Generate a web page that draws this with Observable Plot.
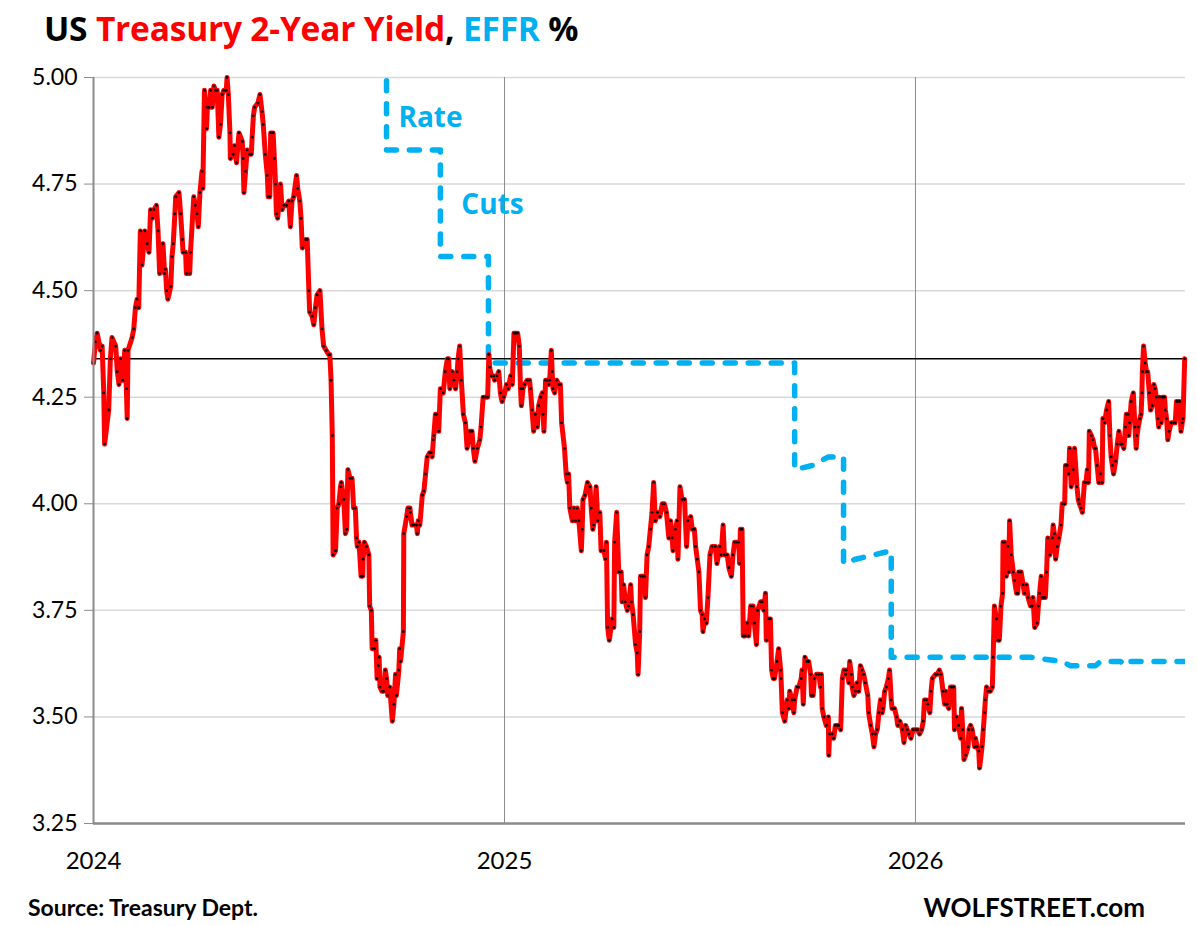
<!DOCTYPE html>
<html>
<head>
<meta charset="utf-8">
<script src="https://cdn.jsdelivr.net/npm/d3@7"></script>
<script src="https://cdn.jsdelivr.net/npm/@observablehq/plot@0.6"></script>
<style>
  html, body { margin: 0; padding: 0; background: #fff; }
  #wrap { position: relative; width: 1197px; height: 926px; overflow: hidden; font-family: Lato, "Open Sans", sans-serif; }
  #title { position: absolute; left: 44px; top: 12px; font-family: "Open Sans", Lato, sans-serif; font-weight: bold; font-size: 33.5px; line-height: 1; color: #000; white-space: nowrap; letter-spacing: -0.2px; }
  .red { color: #FF0000; }
  .blue { color: #00B0F0; }
  #source { position: absolute; left: 28px; top: 896px; font-weight: bold; font-size: 23px; line-height: 1; }
  #brand { position: absolute; right: 52px; top: 894px; font-weight: bold; font-size: 26px; line-height: 1; }
  #chart { position: absolute; left: 0; top: 0; }
</style>
</head>
<body>
<div id="wrap">
  <div id="chart"></div>
  <div id="title">US <span class="red">Treasury 2-Year Yield</span>, <span class="blue">EFFR</span> %</div>
  <div id="source">Source: Treasury Dept.</div>
  <div id="brand">WOLFSTREET.com</div>
</div>
<script>
// Treasury 2-year yield, time in fractional years
const yieldYears = [
2024.000,2024.005,2024.009,2024.017,2024.021,2024.025,2024.027,2024.037,2024.041,2024.045,2024.054,2024.058,2024.062,2024.066,2024.071,2024.076,2024.080,2024.082,2024.084,2024.094,
2024.098,2024.102,2024.106,2024.110,2024.114,2024.118,2024.125,2024.131,2024.135,2024.139,2024.143,2024.147,2024.153,2024.157,2024.161,2024.169,2024.173,2024.175,2024.178,2024.181,
2024.188,2024.191,2024.194,2024.198,2024.200,2024.208,2024.212,2024.216,2024.218,2024.224,2024.226,2024.234,2024.236,2024.244,2024.248,2024.252,2024.255,2024.259,2024.264,2024.266,
2024.270,2024.275,2024.277,2024.281,2024.285,2024.289,2024.293,2024.297,2024.301,2024.305,2024.309,2024.313,2024.317,2024.323,2024.325,2024.328,2024.332,2024.333,2024.340,2024.343,
2024.348,2024.354,2024.362,2024.364,2024.366,2024.370,2024.374,2024.380,2024.384,2024.386,2024.389,2024.392,2024.400,2024.405,2024.410,2024.413,2024.418,2024.423,2024.425,2024.429,
2024.431,2024.437,2024.440,2024.443,2024.445,2024.448,2024.455,2024.459,2024.463,2024.470,2024.475,2024.479,2024.483,2024.487,2024.494,2024.497,2024.502,2024.505,2024.508,2024.516,
2024.520,2024.524,2024.526,2024.532,2024.536,2024.540,2024.544,2024.551,2024.556,2024.560,2024.566,2024.572,2024.575,2024.578,2024.581,2024.583,2024.589,2024.593,2024.597,2024.601,
2024.603,2024.609,2024.613,2024.616,2024.619,2024.624,2024.629,2024.633,2024.637,2024.640,2024.642,2024.646,2024.651,2024.655,2024.656,2024.659,2024.664,2024.670,2024.672,2024.676,
2024.678,2024.684,2024.687,2024.690,2024.693,2024.695,2024.697,2024.702,2024.706,2024.710,2024.713,2024.716,2024.721,2024.727,2024.731,2024.735,2024.737,2024.743,2024.745,2024.747,
2024.754,2024.755,2024.762,2024.765,2024.770,2024.771,2024.775,2024.779,2024.786,2024.788,2024.790,2024.794,2024.800,2024.804,2024.808,2024.812,2024.818,2024.822,2024.824,2024.827,
2024.828,2024.832,2024.835,2024.840,2024.844,2024.851,2024.856,2024.861,2024.864,2024.867,2024.873,2024.877,2024.881,2024.885,2024.887,2024.891,2024.895,2024.900,2024.905,2024.909,
2024.916,2024.921,2024.924,2024.928,2024.934,2024.940,2024.943,2024.948,2024.954,2024.959,2024.962,2024.964,2024.968,2024.974,2024.976,2024.982,2024.986,2024.990,2024.994,2024.998,
2025.005,2025.009,2025.015,2025.019,2025.023,2025.027,2025.032,2025.036,2025.039,2025.041,2025.045,2025.049,2025.055,2025.061,2025.063,2025.067,2025.071,2025.075,2025.080,2025.083,
2025.088,2025.092,2025.094,2025.096,2025.100,2025.104,2025.108,2025.110,2025.114,2025.116,2025.118,2025.122,2025.127,2025.132,2025.136,2025.139,2025.146,2025.150,2025.153,2025.156,
2025.159,2025.165,2025.169,2025.173,2025.177,2025.181,2025.187,2025.189,2025.191,2025.196,2025.202,2025.208,2025.211,2025.215,2025.217,2025.223,2025.227,2025.232,2025.235,2025.242,
2025.246,2025.248,2025.251,2025.255,2025.262,2025.266,2025.268,2025.273,2025.278,2025.284,2025.286,2025.290,2025.294,2025.299,2025.302,2025.307,2025.309,2025.313,2025.319,2025.323,
2025.325,2025.329,2025.331,2025.337,2025.341,2025.343,2025.347,2025.351,2025.355,2025.359,2025.363,2025.367,2025.372,2025.378,2025.384,2025.389,2025.394,2025.400,2025.404,2025.408,
2025.410,2025.416,2025.420,2025.422,2025.427,2025.432,2025.438,2025.443,2025.446,2025.453,2025.457,2025.462,2025.465,2025.469,2025.473,2025.477,2025.481,2025.483,2025.487,2025.491,
2025.495,2025.500,2025.505,2025.513,2025.517,2025.524,2025.527,2025.532,2025.535,2025.542,2025.546,2025.552,2025.556,2025.560,2025.566,2025.570,2025.572,2025.574,2025.578,2025.581,
2025.586,2025.591,2025.594,2025.599,2025.605,2025.608,2025.613,2025.616,2025.623,2025.627,2025.631,2025.635,2025.637,2025.643,2025.647,2025.650,2025.654,2025.657,2025.663,2025.667,
2025.672,2025.673,2025.676,2025.682,2025.688,2025.692,2025.694,2025.700,2025.704,2025.706,2025.712,2025.716,2025.722,2025.724,2025.727,2025.731,2025.735,2025.740,2025.745,2025.747,
2025.751,2025.754,2025.759,2025.765,2025.769,2025.771,2025.773,2025.777,2025.783,2025.788,2025.789,2025.791,2025.797,2025.801,2025.805,2025.810,2025.813,2025.818,2025.822,2025.826,
2025.830,2025.832,2025.838,2025.840,2025.844,2025.846,2025.850,2025.854,2025.858,2025.862,2025.866,2025.870,2025.874,2025.878,2025.884,2025.886,2025.891,2025.895,2025.899,2025.903,
2025.907,2025.911,2025.915,2025.919,2025.921,2025.925,2025.929,2025.934,2025.937,2025.941,2025.943,2025.949,2025.954,2025.957,2025.962,2025.968,2025.972,2025.976,2025.980,2025.984,
2025.989,2025.994,2026.000,2026.005,2026.010,2026.015,2026.019,2026.022,2026.027,2026.030,2026.035,2026.038,2026.041,2026.049,2026.053,2026.058,2026.062,2026.067,2026.071,2026.073,
2026.077,2026.081,2026.085,2026.089,2026.093,2026.095,2026.100,2026.105,2026.110,2026.112,2026.115,2026.118,2026.122,2026.128,2026.130,2026.134,2026.138,2026.144,2026.146,2026.150,
2026.154,2026.156,2026.162,2026.165,2026.168,2026.170,2026.173,2026.176,2026.182,2026.187,2026.189,2026.192,2026.197,2026.201,2026.204,2026.208,2026.212,2026.213,2026.217,2026.221,
2026.225,2026.227,2026.229,2026.233,2026.238,2026.241,2026.246,2026.249,2026.251,2026.257,2026.262,2026.265,2026.270,2026.274,2026.280,2026.284,2026.286,2026.290,2026.296,2026.299,
2026.302,2026.306,2026.308,2026.312,2026.316,2026.319,2026.322,2026.327,2026.333,2026.335,2026.338,2026.341,2026.345,2026.349,2026.354,2026.357,2026.363,2026.365,2026.369,2026.373,
2026.375,2026.379,2026.384,2026.387,2026.393,2026.396,2026.399,2026.403,2026.406,2026.411,2026.415,2026.418,2026.421,2026.423,2026.428,2026.432,2026.436,2026.438,2026.442,2026.446,
2026.450,2026.454,2026.456,2026.460,2026.465,2026.470,2026.473,2026.476,2026.479,2026.482,2026.487,2026.491,2026.495,2026.499,2026.503,2026.507,2026.511,2026.513,2026.518,2026.519,
2026.521,2026.525,2026.530,2026.534,2026.537,2026.539,2026.542,2026.546,2026.549,2026.551,2026.552,2026.555,2026.559,2026.562,2026.565,2026.569,2026.572,2026.576,2026.580,2026.583,
2026.586,2026.590,2026.592,2026.594,2026.598,2026.601,2026.606,2026.608,2026.611,2026.614,2026.617,2026.622,2026.628,2026.632,2026.635,2026.638,2026.643,2026.646,2026.649,2026.651,
2026.655
];
const yieldValues = [
4.33,4.38,4.40,4.36,4.37,4.26,4.14,4.22,4.34,4.39,4.37,4.31,4.28,4.34,4.29,4.36,4.27,4.20,4.36,4.39,
4.41,4.46,4.48,4.46,4.64,4.56,4.64,4.61,4.59,4.69,4.67,4.69,4.70,4.64,4.54,4.61,4.54,4.55,4.50,4.48,
4.51,4.58,4.61,4.68,4.72,4.73,4.68,4.62,4.59,4.59,4.54,4.54,4.59,4.72,4.70,4.68,4.65,4.73,4.78,4.74,
4.97,4.88,4.93,4.93,4.97,4.93,4.98,4.97,4.97,4.86,4.89,4.96,4.97,4.97,5.00,4.96,4.87,4.81,4.82,4.84,
4.80,4.87,4.85,4.81,4.73,4.78,4.83,4.82,4.82,4.86,4.91,4.93,4.94,4.96,4.92,4.89,4.82,4.77,4.72,4.72,
4.87,4.87,4.81,4.75,4.68,4.67,4.75,4.69,4.70,4.70,4.71,4.65,4.71,4.72,4.77,4.74,4.71,4.67,4.60,4.62,
4.62,4.50,4.45,4.44,4.42,4.46,4.49,4.50,4.41,4.37,4.36,4.35,4.35,4.29,4.16,3.88,3.89,3.99,4.00,4.04,
4.05,4.01,3.93,3.94,4.08,4.06,4.06,3.99,3.99,3.92,3.90,3.91,3.83,3.83,3.87,3.91,3.90,3.88,3.76,3.75,
3.66,3.66,3.68,3.59,3.62,3.64,3.57,3.56,3.56,3.61,3.59,3.55,3.57,3.49,3.53,3.60,3.55,3.61,3.66,3.63,
3.70,3.93,3.97,3.99,3.99,3.98,3.95,3.95,3.95,3.93,3.96,3.95,4.02,4.03,4.07,4.11,4.12,4.12,4.11,4.15,
4.16,4.21,4.21,4.17,4.27,4.26,4.31,4.34,4.34,4.27,4.31,4.29,4.27,4.31,4.34,4.37,4.29,4.21,4.19,4.13,
4.17,4.17,4.13,4.10,4.13,4.15,4.18,4.25,4.25,4.25,4.35,4.32,4.30,4.30,4.29,4.30,4.31,4.26,4.24,4.25,
4.28,4.27,4.30,4.28,4.40,4.40,4.40,4.37,4.27,4.23,4.27,4.28,4.29,4.29,4.27,4.22,4.17,4.21,4.18,4.23,
4.25,4.26,4.21,4.17,4.29,4.29,4.28,4.29,4.36,4.31,4.27,4.26,4.29,4.28,4.28,4.19,4.13,4.07,4.05,4.07,
3.99,3.96,3.99,3.96,3.99,3.96,3.89,3.94,4.01,4.02,4.05,4.04,3.99,3.94,3.95,4.04,3.96,3.98,3.89,3.89,
3.87,3.91,3.71,3.68,3.73,3.71,3.91,3.98,3.84,3.84,3.77,3.81,3.77,3.75,3.76,3.81,3.77,3.74,3.67,3.65,
3.60,3.70,3.83,3.83,3.83,3.78,3.88,3.90,3.94,3.98,4.05,3.96,3.98,3.97,4.00,4.00,3.98,3.92,3.96,3.92,
3.89,3.94,3.96,3.87,4.04,4.01,4.01,3.90,3.96,3.97,3.94,3.94,3.90,3.87,3.84,3.75,3.74,3.70,3.73,3.72,
3.78,3.88,3.90,3.90,3.86,3.90,3.88,3.95,3.88,3.88,3.85,3.83,3.88,3.91,3.91,3.91,3.86,3.94,3.94,3.69,
3.69,3.72,3.69,3.76,3.76,3.72,3.67,3.75,3.77,3.77,3.75,3.79,3.68,3.73,3.73,3.61,3.59,3.59,3.63,3.66,
3.61,3.59,3.51,3.49,3.54,3.52,3.56,3.54,3.51,3.54,3.57,3.57,3.59,3.61,3.53,3.64,3.63,3.63,3.60,3.55,
3.55,3.59,3.60,3.60,3.57,3.60,3.52,3.50,3.48,3.50,3.41,3.46,3.46,3.45,3.48,3.48,3.48,3.47,3.59,3.61,
3.60,3.61,3.58,3.63,3.60,3.57,3.55,3.56,3.58,3.56,3.62,3.61,3.60,3.58,3.55,3.51,3.48,3.46,3.43,3.46,
3.47,3.51,3.54,3.51,3.52,3.56,3.57,3.59,3.61,3.54,3.52,3.52,3.50,3.48,3.49,3.47,3.44,3.48,3.47,3.46,
3.45,3.47,3.47,3.47,3.46,3.47,3.49,3.54,3.54,3.53,3.51,3.56,3.59,3.60,3.60,3.61,3.60,3.56,3.53,3.56,
3.53,3.52,3.57,3.57,3.57,3.47,3.50,3.48,3.45,3.52,3.47,3.40,3.41,3.43,3.47,3.48,3.47,3.43,3.45,3.43,
3.42,3.38,3.43,3.47,3.51,3.54,3.57,3.56,3.56,3.57,3.64,3.76,3.73,3.68,3.68,3.76,3.79,3.91,3.91,3.83,
3.90,3.84,3.96,3.88,3.84,3.82,3.79,3.79,3.84,3.84,3.81,3.79,3.81,3.78,3.76,3.76,3.78,3.71,3.72,3.76,
3.79,3.83,3.78,3.78,3.78,3.84,3.92,3.88,3.92,3.95,3.93,3.87,3.90,3.92,3.95,4.00,4.00,4.09,4.09,4.07,
4.13,4.04,4.08,4.13,4.04,4.01,4.00,3.99,3.98,4.05,4.05,4.08,4.05,4.17,4.16,4.15,4.13,4.13,4.09,4.05,
4.07,4.05,4.20,4.19,4.22,4.24,4.16,4.11,4.09,4.07,4.10,4.14,4.17,4.14,4.14,4.13,4.18,4.21,4.21,4.16,
4.19,4.24,4.26,4.18,4.13,4.16,4.18,4.20,4.21,4.26,4.31,4.37,4.33,4.31,4.31,4.26,4.22,4.23,4.28,4.27,
4.25,4.20,4.18,4.25,4.19,4.25,4.25,4.22,4.20,4.15,4.17,4.19,4.19,4.19,4.24,4.24,4.24,4.17,4.19,4.20,
4.34
];

// Effective federal funds rate (step series), time in fractional years
const effrYears = [2024.000,2024.713,2024.713,2024.844,2024.844,2024.961,2024.961,2025.706,2025.706,2025.749,2025.769,2025.788,2025.825,2025.825,2025.854,2025.898,2025.941,2025.941,2026.280,2026.357,2026.377,2026.438,2026.450,2026.499,2026.511,2026.523,2026.657];
const effrValues = [5.33,5.33,4.83,4.83,4.58,4.58,4.33,4.33,4.08,4.09,4.10,4.11,4.11,3.86,3.87,3.88,3.89,3.64,3.64,3.63,3.62,3.62,3.63,3.63,3.62,3.63,3.63];

const yTicks = [3.25, 3.50, 3.75, 4.00, 4.25, 4.50, 4.75, 5.00];
const xTicks = [2024, 2025, 2026];
const yearRules = [2025, 2026];
const refLevel = 4.34;
const notes = [
  {label: "Rate", x: 2024.742, y: 4.904},
  {label: "Cuts", x: 2024.895, y: 4.702}
];

const yieldData = yieldYears.map((t, i) => ({t, v: yieldValues[i]}));
const effrData = effrYears.map((t, i) => ({t, v: effrValues[i]}));

const chart = Plot.plot({
  width: 1197,
  height: 926,
  marginTop: 77,
  marginLeft: 93,
  marginRight: 12,
  marginBottom: 103,
  style: {fontFamily: "Lato, 'Open Sans', sans-serif", fontSize: "22px", color: "#000", background: "white"},
  x: {type: "linear", domain: [2024, 2026.657]},
  y: {domain: [3.25, 5.0]},
  marks: [
    Plot.gridY(yTicks, {stroke: "#d9d9d9", strokeOpacity: 1, strokeWidth: 1.5}),
    Plot.ruleX(yearRules, {stroke: "#8c8c8c", strokeWidth: 1}),
    Plot.line(effrData, {x: "t", y: "v", stroke: "#00B0F0", strokeWidth: 5.5, strokeDasharray: "10,13", strokeLinecap: "round", clip: true}),
    Plot.ruleY([refLevel], {stroke: "#000", strokeWidth: 1.5}),
    Plot.line(yieldData, {x: "t", y: "v", stroke: "#FF0000", strokeWidth: 5, strokeLinejoin: "round"}),
    Plot.dot(yieldData, {x: "t", y: "v", r: 1.4, fill: "#000", stroke: "none"}),
    Plot.ruleX([2024], {stroke: "#8c8c8c", strokeWidth: 2}),
    Plot.ruleY([3.25], {stroke: "#8c8c8c", strokeWidth: 2.5}),
    Plot.axisY(yTicks, {tickFormat: d => d.toFixed(2), tickSize: 9, tickPadding: 7, stroke: "#8c8c8c", fontSize: 23}),
    Plot.axisX(xTicks, {tickFormat: d => String(d), tickSize: 0, tickPadding: 28, fontSize: 24}),
    Plot.text(notes, {x: "x", y: "y", text: "label", textAnchor: "start", fill: "#00B0F0", fontSize: 28, fontWeight: "bold", fontFamily: "'Open Sans', Lato, sans-serif"})
  ]
});
document.getElementById("chart").appendChild(chart);
</script>
</body>
</html>
